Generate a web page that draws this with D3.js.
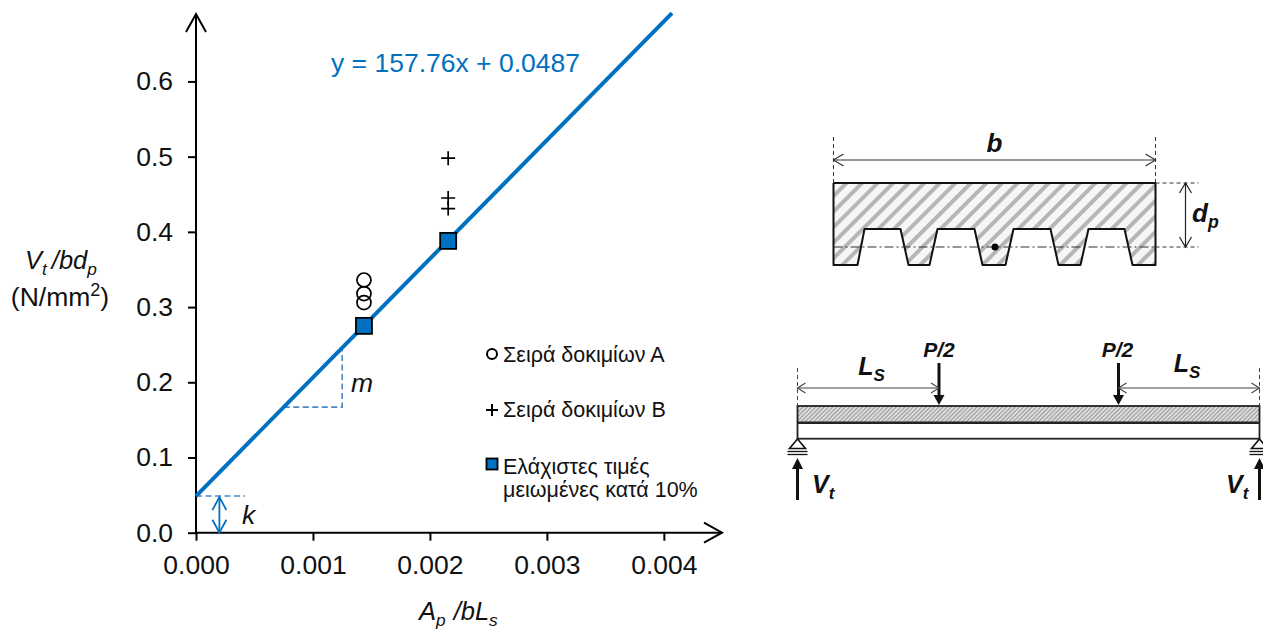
<!DOCTYPE html>
<html>
<head>
<meta charset="utf-8">
<script src="https://cdn.jsdelivr.net/npm/d3@7"></script>
<style>
  html, body { margin: 0; background: #fff; }
  svg { display: block; font-family: "Liberation Sans", Arial, sans-serif; }
  .tick text { font-size: 26.5px; fill: #111; font-family: "Liberation Sans", Arial, sans-serif; }
  text { fill: #111; }
</style>
</head>
<body>
<script>
// chart values
const xTicks = [0, 0.001, 0.002, 0.003, 0.004];
const yTicks = [0, 0.1, 0.2, 0.3, 0.4, 0.5, 0.6];
const seriesA = [[0.001436, 0.336], [0.001436, 0.318], [0.001436, 0.306]];
const seriesB = [[0.002156, 0.498], [0.002156, 0.445], [0.002156, 0.431]];
const minima = [[0.001436, 0.275], [0.002156, 0.388]];
const slope = 157.76;
const intercept = 0.0487;
const fitEndX = 0.00407;
const slopeRunX = [0.00075, 0.00125];
const legendA = 'Σειρά δοκιμίων Α';
const legendB = 'Σειρά δοκιμίων Β';
const legendMin = ['Ελάχιστες τιμές', 'μειωμένες κατά 10%'];

// section and beam drawings, in millimetre-like drawing units
const sectionOutline = [
  [0, 0], [322, 0], [322, 82], [299, 82], [291, 46], [255, 46], [247, 82],
  [225, 82], [217, 46], [180, 46], [172, 82], [149, 82], [141, 46], [104, 46],
  [96, 82], [75, 82], [67, 46], [31, 46], [24, 82], [0, 82], [0, 0],
];
const beamLevels = [0, 16.7, 32.7];
const loadPositions = [141.5, 321];

const blue = '#0070c0';
const dashBlue = '#4a86c8';
const width = 1263;
const height = 630;

const svg = d3.select('body').append('svg').attr('width', width).attr('height', height);
const defs = svg.append('defs');

const x = d3.scaleLinear().domain([0, 0.00448]).range([196, 720]);
const y = d3.scaleLinear().domain([0, 0.691]).range([532.7, 13]);

// open arrow with two wings at the tip
const arrow = (g, x1, y1, x2, y2, wing, back, color, sw, heads) => {
  g.append('line').attr('x1', x1).attr('y1', y1).attr('x2', x2).attr('y2', y2)
    .attr('stroke', color).attr('stroke-width', sw);
  const head = (tx, ty, fx, fy) => {
    const a = Math.atan2(fy - ty, fx - tx);
    const ux = Math.cos(a), uy = Math.sin(a);
    const p = [
      [tx + ux * back - uy * wing, ty + uy * back + ux * wing],
      [tx, ty],
      [tx + ux * back + uy * wing, ty + uy * back - ux * wing],
    ];
    g.append('path').attr('d', d3.line()(p)).attr('fill', 'none')
      .attr('stroke', color).attr('stroke-width', sw);
  };
  head(x2, y2, x1, y1);
  if (heads === 2) head(x1, y1, x2, y2);
};

// text made of runs: [string, {i, b, sub, sup, dx}]
const richText = (g, px, py, size, anchor, runs, fill) => {
  const t = g.append('text').attr('x', px).attr('y', py).attr('font-size', size)
    .attr('text-anchor', anchor);
  if (fill) t.style('fill', fill);
  let shift = 0;
  runs.forEach((r) => {
    const o = r[1] || {};
    const s = t.append('tspan').text(r[0]);
    if (o.i) s.attr('font-style', 'italic');
    if (o.b) s.attr('font-weight', 'bold');
    let dy = -shift;
    shift = 0;
    if (o.sub) { s.attr('font-size', size * 0.68); shift = size * 0.22; }
    if (o.sup) { s.attr('font-size', size * 0.68); shift = -size * 0.36; }
    dy += shift;
    if (dy) s.attr('dy', dy);
    if (o.dx) s.attr('dx', o.dx);
  });
  return t;
};

// axes
const xAxis = d3.axisBottom(x).tickValues(xTicks).tickFormat(d3.format('.3f')).tickSize(8).tickPadding(14);
const yAxis = d3.axisLeft(y).tickValues(yTicks).tickFormat(d3.format('.1f')).tickSize(8).tickPadding(15);

const gx = svg.append('g').attr('transform', `translate(0,${y(0)})`).call(xAxis);
gx.select('.domain').remove();
gx.selectAll('.tick line').attr('stroke', '#000').attr('stroke-width', 2);

const gy = svg.append('g').attr('transform', `translate(${x(0)},0)`).call(yAxis);
gy.select('.domain').remove();
gy.selectAll('.tick line').attr('stroke', '#000').attr('stroke-width', 2);

const axes = svg.append('g');
arrow(axes, x(0), y(0), x.range()[1] + 2, y(0), 10, 18, '#000', 2);
arrow(axes, x(0), y(0) + 1, x(0), y.range()[1] + 1, 10, 18, '#000', 2);

// fit line and its guides
const guides = svg.append('g').attr('fill', 'none').attr('stroke', dashBlue)
  .attr('stroke-width', 1.6).attr('stroke-dasharray', '6 3.5');
const fit = (v) => slope * v + intercept;
guides.append('path').attr('d', d3.line()([
  [x(slopeRunX[0]), y(fit(slopeRunX[0]))],
  [x(slopeRunX[1]), y(fit(slopeRunX[0]))],
  [x(slopeRunX[1]), y(fit(slopeRunX[1]))],
]));
guides.append('line').attr('x1', x(0)).attr('x2', x(0.00042))
  .attr('y1', y(intercept)).attr('y2', y(intercept));

arrow(svg.append('g'), x(0.0002), y(0), x(0.0002), y(intercept) + 1, 7, 13, blue, 1.8, 2);

svg.append('path')
  .attr('d', d3.line().x((d) => x(d)).y((d) => y(fit(d)))([0, fitEndX]))
  .attr('fill', 'none').attr('stroke', blue).attr('stroke-width', 4);

// points
const marks = svg.append('g');
marks.selectAll('circle.a').data(seriesA).enter().append('circle')
  .attr('class', 'a').attr('cx', (d) => x(d[0])).attr('cy', (d) => y(d[1])).attr('r', 7)
  .attr('fill', 'none').attr('stroke', '#000').attr('stroke-width', 1.7);
marks.selectAll('path.b').data(seriesB).enter().append('path')
  .attr('class', 'b').attr('transform', (d) => `translate(${x(d[0])},${y(d[1])})`)
  .attr('d', 'M-7,0H7M0,-7V7').attr('stroke', '#000').attr('stroke-width', 1.7);
marks.selectAll('rect.min').data(minima).enter().append('rect')
  .attr('class', 'min').attr('x', (d) => x(d[0]) - 8).attr('y', (d) => y(d[1]) - 8)
  .attr('width', 16).attr('height', 16)
  .attr('fill', blue).attr('stroke', '#000').attr('stroke-width', 1.8);

// chart labels
richText(svg, 331, 72, 26.5, 'start', [['y = 157.76x + 0.0487']], blue);
richText(svg, 351, 392, 26.5, 'start', [['m', { i: 1 }]]);
richText(svg, 242, 524, 26.5, 'start', [['k', { i: 1 }]]);
richText(svg, 25, 269, 25.5, 'start', [
  ['V', { i: 1 }], ['t', { i: 1, sub: 1 }], ['/bd', { i: 1, dx: 5 }], ['p', { i: 1, sub: 1 }],
]);
richText(svg, 60, 306, 26.5, 'middle', [
  ['(N/mm'], ['2', { sup: 1 }], [')'],
]);
richText(svg, 419, 620, 25.5, 'start', [
  ['A', { i: 1 }], ['p', { i: 1, sub: 1 }], ['/bL', { i: 1, dx: 8 }], ['s', { i: 1, sub: 1 }],
]);

// legend
const legend = svg.append('g');
legend.append('circle').attr('cx', 492).attr('cy', 354).attr('r', 5)
  .attr('fill', 'none').attr('stroke', '#000').attr('stroke-width', 2);
legend.append('path').attr('d', 'M486,410H498M492,404V416').attr('stroke', '#000').attr('stroke-width', 2);
legend.append('rect').attr('x', 486.5).attr('y', 458.5).attr('width', 11).attr('height', 11)
  .attr('fill', blue).attr('stroke', '#000').attr('stroke-width', 1.8);
richText(legend, 503, 362, 21.5, 'start', [[legendA]]);
richText(legend, 503, 417, 21.5, 'start', [[legendB]]);
richText(legend, 503, 474, 21.5, 'start', [[legendMin[0]]]);
richText(legend, 503, 497, 21.5, 'start', [[legendMin[1]]]);

// cross section
const sx = d3.scaleLinear().domain([0, 322]).range([833.5, 1155.5]);
const sy = d3.scaleLinear().domain([0, 82]).range([183, 265]);

const hatchWide = defs.append('pattern').attr('id', 'hatchWide').attr('patternUnits', 'userSpaceOnUse')
  .attr('width', 11).attr('height', 11).attr('patternTransform', 'rotate(45)');
hatchWide.append('rect').attr('width', 11).attr('height', 11).attr('fill', '#f6f6f6');
hatchWide.append('rect').attr('width', 4).attr('height', 11).attr('fill', '#b6b6b6');

const hatchFine = defs.append('pattern').attr('id', 'hatchFine').attr('patternUnits', 'userSpaceOnUse')
  .attr('width', 3).attr('height', 3).attr('patternTransform', 'rotate(45)');
hatchFine.append('rect').attr('width', 3).attr('height', 3).attr('fill', '#e2e2e2');
hatchFine.append('rect').attr('width', 1.2).attr('height', 3).attr('fill', '#9a9a9a');

const section = svg.append('g');
section.append('path')
  .attr('d', d3.line().x((d) => sx(d[0])).y((d) => sy(d[1]))(sectionOutline))
  .attr('fill', 'url(#hatchWide)').attr('stroke', '#111').attr('stroke-width', 2)
  .attr('stroke-linejoin', 'round');
section.append('line').attr('x1', sx(0)).attr('x2', sx(322)).attr('y1', sy(64)).attr('y2', sy(64))
  .attr('stroke', '#333').attr('stroke-width', 1).attr('stroke-dasharray', '9 3 2 3');
section.append('circle').attr('cx', sx(161.5)).attr('cy', sy(64)).attr('r', 3.5).attr('fill', '#000');

const dimLines = section.append('g').attr('stroke', '#333').attr('stroke-width', 1)
  .attr('stroke-dasharray', '4 3');
[[0, -46, 0, 0], [322, -46, 322, 0], [322, 0, 365, 0], [322, 64, 365, 64]].forEach((d) => {
  dimLines.append('line').attr('x1', sx(d[0])).attr('y1', sy(d[1])).attr('x2', sx(d[2])).attr('y2', sy(d[3]));
});
arrow(section, sx(322), sy(-23), sx(0), sy(-23), 6, 10, '#333', 1.2, 2);
arrow(section, sx(352), sy(64), sx(352), sy(0), 6, 10, '#222', 1.2, 2);
richText(section, sx(161), 152, 26, 'middle', [['b', { b: 1, i: 1 }]]);
richText(section, 1192, 222, 26, 'start', [['d', { b: 1, i: 1 }], ['p', { b: 1, i: 1, sub: 1 }]]);

// beam elevation
const bx = d3.scaleLinear().domain([0, 462]).range([797.5, 1259.5]);
const by = d3.scaleLinear().domain([0, 32.7]).range([406, 438.7]);

const beam = svg.append('g');
beam.append('rect').attr('x', bx(0)).attr('y', by(0)).attr('width', bx(462) - bx(0))
  .attr('height', by(beamLevels[1]) - by(0)).attr('fill', 'url(#hatchFine)');
beam.append('rect').attr('x', bx(0)).attr('y', by(0)).attr('width', bx(462) - bx(0))
  .attr('height', by(beamLevels[2]) - by(0)).attr('fill', 'none').attr('stroke', '#222').attr('stroke-width', 1.8);
beamLevels.slice(1, 2).forEach((lvl) => {
  beam.append('line').attr('x1', bx(0)).attr('x2', bx(462)).attr('y1', by(lvl)).attr('y2', by(lvl))
    .attr('stroke', '#222').attr('stroke-width', 2.4);
});

// load arrows with filled heads
loadPositions.forEach((p) => {
  beam.append('line').attr('x1', bx(p)).attr('x2', bx(p)).attr('y1', by(-43)).attr('y2', by(-10))
    .attr('stroke', '#111').attr('stroke-width', 3);
  beam.append('path').attr('d', d3.line()([[bx(p) - 5.5, by(-11)], [bx(p) + 5.5, by(-11)], [bx(p), by(-1)]]))
    .attr('fill', '#111');
  richText(beam, bx(p) - (p < 200 ? 0 : 1), 357, 21, 'middle', [['P/2', { b: 1, i: 1 }]]);
});

// span dimensions
[[0, 0, 141.5], [462, 321, 462]].forEach((d) => {
  beam.append('line').attr('x1', bx(d[0])).attr('x2', bx(d[0])).attr('y1', by(-38)).attr('y2', by(0))
    .attr('stroke', '#444').attr('stroke-width', 1).attr('stroke-dasharray', '4 3');
  arrow(beam, bx(d[1]), by(-18), bx(d[2]), by(-18), 5, 8, '#444', 1.1, 2);
});
richText(beam, bx(74), 375, 25, 'middle', [['L', { b: 1, i: 1 }], ['S', { b: 1, i: 1, sub: 1 }]]);
richText(beam, bx(389.5), 372, 25, 'middle', [['L', { b: 1, i: 1 }], ['S', { b: 1, i: 1, sub: 1 }]]);

// supports and reactions
[0, 462].forEach((p) => {
  const sup = beam.append('g');
  sup.append('path').attr('d', d3.line()([[bx(p), by(33)], [bx(p) - 8, by(42.5)], [bx(p) + 8, by(42.5)], [bx(p), by(33)]]))
    .attr('fill', '#fff').attr('stroke', '#111').attr('stroke-width', 1.6);
  [45.5, 48.5].forEach((lvl) => {
    sup.append('line').attr('x1', bx(p) - 10).attr('x2', bx(p) + 10).attr('y1', by(lvl)).attr('y2', by(lvl))
      .attr('stroke', '#111').attr('stroke-width', 1.3);
  });
  sup.append('line').attr('x1', bx(p)).attr('x2', bx(p)).attr('y1', by(62)).attr('y2', by(94))
    .attr('stroke', '#111').attr('stroke-width', 3);
  sup.append('path').attr('d', d3.line()([[bx(p) - 5.5, by(63)], [bx(p) + 5.5, by(63)], [bx(p), by(52)]]))
    .attr('fill', '#111');
});
richText(beam, 812, 493, 25, 'start', [['V', { b: 1, i: 1 }], ['t', { b: 1, i: 1, sub: 1 }]]);
richText(beam, 1226, 493, 25, 'start', [['V', { b: 1, i: 1 }], ['t', { b: 1, i: 1, sub: 1 }]]);
</script>
</body>
</html>
